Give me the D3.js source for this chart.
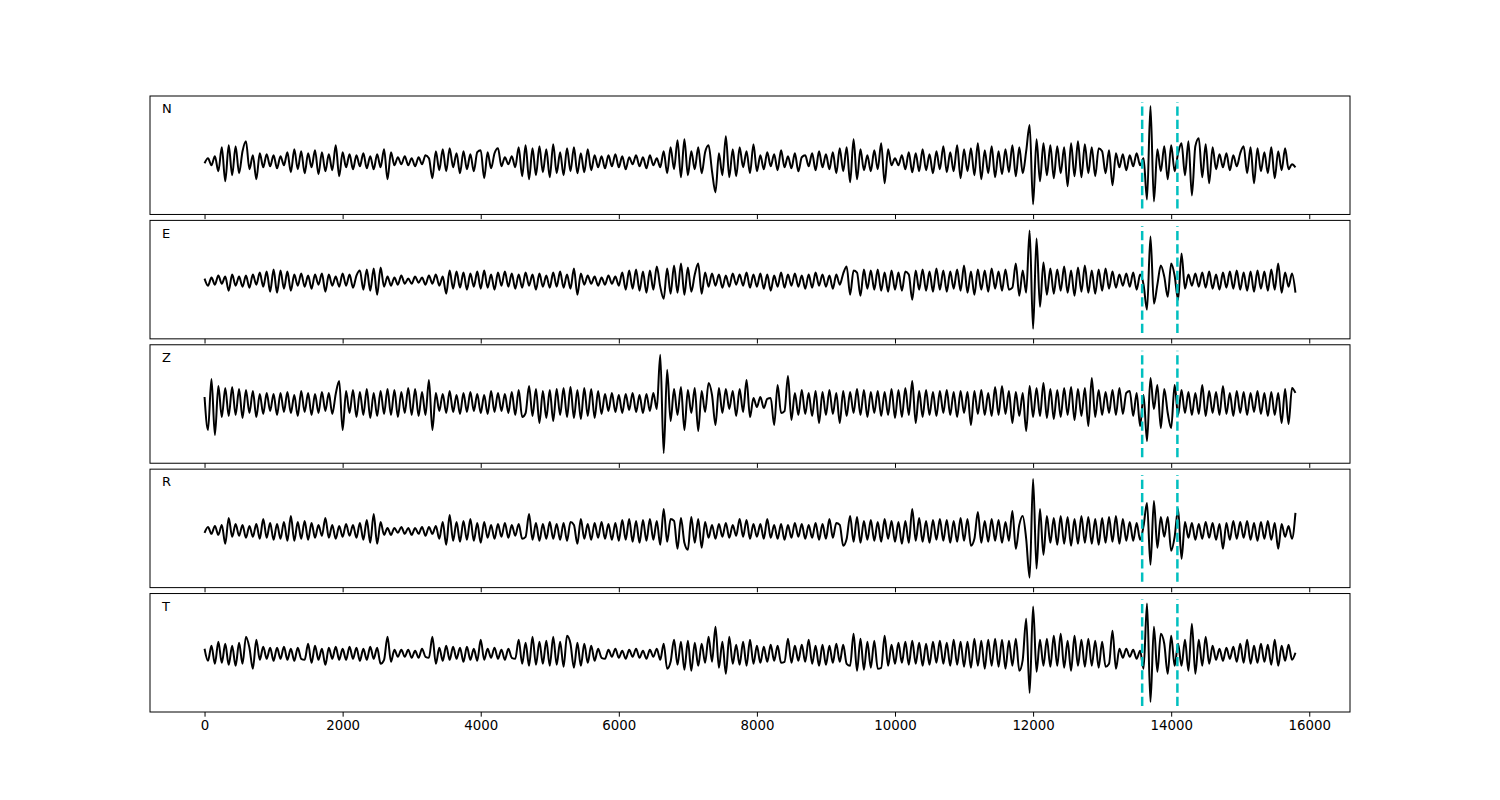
<!DOCTYPE html>
<html><head><meta charset="utf-8">
<script src="https://cdn.jsdelivr.net/npm/d3@7"></script>
<style>body{margin:0;background:#fff} text{font-family:"DejaVu Sans",sans-serif}</style>
</head><body><svg id="c" width="1500" height="800"></svg>
<script>
// sample interval of the traces (x units)
const sampleStep = 50;
const channels = ["N", "E", "Z", "R", "T"];
const picks = [13580, 14090];
const xTicks = [0, 2000, 4000, 6000, 8000, 10000, 12000, 14000, 16000];
const xDomain = [-790, 16590];
const yPad = 10;

const traceN = [
 -2,3,-4,5,-10,14,-20,16,-14,15,-12,10,20,-8,6,-18,8,-6,7,-5,
 6,-7,5,-4,9,-11,12,-8,10,-12,8,-6,11,-13,9,-10,7,-9,16,-15,
 9,-6,7,-8,6,-5,8,-7,5,-8,7,-6,12,-18,9,-4,4,-3,5,-4,
 3,-5,4,-3,6,3,-17,10,-9,12,-10,13,-6,8,-12,10,-8,7,-10,9,
 11,-17,9,-7,8,13,-5,4,-3,5,-6,14,-15,16,-18,13,-14,15,-11,12,
 -16,17,-12,9,-14,13,-10,14,-12,8,-11,12,-9,6,-6,5,-7,6,-5,7,
 -6,5,-8,4,-3,6,-5,4,-7,6,-4,3,-6,10,-12,14,-8,21,-16,22,
 -14,10,-8,14,-12,9,16,-10,-31,8,-14,25,-16,12,-15,14,-6,10,-12,17,
 -10,6,-8,9,-5,7,-9,11,-6,5,-7,8,-10,4,6,-5,8,-9,10,-6,
 7,-8,9,-12,13,-10,14,-21,22,-18,12,-9,6,-10,11,-8,18,-22,12,-4,
 3,-4,6,-8,9,-11,8,-10,12,-9,7,-12,10,-8,15,-11,9,-10,16,-17,
 12,-10,13,-14,18,-18,11,-12,15,-16,10,-13,12,-11,16,-15,14,-12,10,36,
 -43,22,-20,18,-14,16,-17,15,-12,14,-25,18,-15,20,-16,17,-12,14,-15,13,
 10,-12,11,-24,8,-6,7,-9,6,-5,8,-4,3,-38,55,-40,12,-10,15,-18,
 16,-10,8,18,-14,20,-34,15,23,-16,17,-22,14,-8,7,-6,8,-9,6,-5,
 8,15,-12,14,-22,13,-10,9,-12,14,-17,10,-9,13,-8,-3,-6
];
const traceE = [
 2,-5,3,-4,5,-3,4,-10,6,-5,4,-6,5,-7,6,-4,8,-6,9,-11,
 11,-12,10,-8,9,-10,6,-5,7,-6,5,-8,6,-4,7,-11,6,-5,4,-6,
 7,-5,6,-7,5,10,-9,11,-10,12,-14,13,-6,4,-5,3,-4,5,-3,2,
 -3,4,-2,3,-4,5,-3,6,-5,4,-13,10,-8,9,-7,8,-9,7,-6,9,
 -8,10,-7,6,-9,8,-5,9,-6,7,-8,6,-7,8,-5,6,-9,7,-6,5,
 -7,8,-6,9,-7,6,-8,12,-14,7,-4,5,-3,4,-5,3,-4,5,-3,4,
 -5,8,-9,10,-8,11,-10,9,-12,10,-9,14,-6,-18,12,-13,15,-12,17,-14,
 13,-11,6,17,-13,8,-6,7,-5,6,-7,5,-6,7,-4,6,-5,8,-7,6,
 -6,7,-8,6,-10,5,-6,8,-7,6,-5,7,-6,5,-8,6,-7,8,-5,6,
 -6,5,-8,6,-4,7,14,-14,10,8,-15,11,-8,10,-9,11,-10,8,-11,10,
 -9,8,-10,9,6,-19,10,-9,11,-10,9,-11,12,-9,10,-11,9,-8,11,-10,
 15,-12,9,-14,11,-9,10,-11,12,-8,9,-10,11,-9,-7,17,-15,10,-12,50,
 -48,42,-26,18,-14,12,-13,11,-10,14,-12,10,-15,13,-11,15,-12,10,-13,11,
 -10,12,-8,9,-7,6,-5,7,-6,8,-9,6,-4,-29,44,-23,-4,15,4,-16,
 17,5,-19,27,-8,6,-5,7,-6,8,-7,9,-8,6,-9,8,-7,9,-8,10,
 -9,8,-10,9,-11,10,-8,9,-10,11,-9,17,-12,8,-6,7,-12
];
const traceZ = [
 6,-27,24,-32,17,-14,15,-13,16,-12,14,-15,13,-10,12,-14,9,-11,10,-8,
 9,-12,10,-9,11,-10,8,-13,12,-9,10,-12,9,-10,11,-8,10,-11,9,22,
 -27,12,-10,13,-14,11,-12,14,-15,10,-13,12,-11,14,-12,13,-14,11,-10,15,
 -12,14,-13,11,-12,23,-27,10,-8,9,-10,12,-9,8,-11,10,-9,11,-8,9,
 -10,8,-11,12,-9,10,-8,9,-10,11,-12,13,-14,-10,17,-13,14,-20,12,-15,
 13,-18,14,-12,15,-14,16,-15,13,-16,15,-13,14,-15,12,-11,9,-8,10,-9,
 8,-10,9,-7,10,-9,8,-10,9,-8,10,-6,48,-50,33,-18,14,-12,16,-27,
 13,-10,15,-28,12,-9,20,8,-22,15,-10,14,-6,12,-13,14,-9,23,-14,5,
 -4,6,-5,4,5,-22,18,-10,-8,27,-17,10,-12,13,-11,10,-13,12,-20,11,
 -12,13,-11,10,-20,12,-13,11,-10,14,-12,13,-14,11,-10,12,-13,11,-12,14,
 -15,13,-14,15,-12,22,-20,12,-14,13,-12,11,-13,12,-10,13,-12,11,-14,12,
 -10,11,-22,12,-11,13,-12,10,-13,16,-12,17,-11,12,-20,11,-13,10,-28,17,
 -14,15,-13,20,-15,14,-16,13,-14,15,-12,16,-17,14,-13,15,-23,25,-14,13,
 -12,11,-10,13,-12,15,-11,10,12,-13,10,-23,8,-38,25,-6,18,-25,14,-10,
 -25,18,-12,13,-10,11,-12,10,-11,18,-13,12,-10,11,-12,17,-11,10,-13,12,
 -10,11,-12,10,-9,12,-11,10,-13,11,-12,10,-20,14,-21,15,10
];
const traceR = [
 -2,4,-3,5,-4,6,-13,13,-6,7,-5,6,-7,5,-6,7,-8,12,-7,8,
 -9,7,-8,9,-10,15,-10,9,-8,10,-9,8,-7,6,-5,13,-7,6,-8,5,
 -6,7,-5,6,-7,8,-9,11,-12,17,-13,9,-4,3,-4,3,-2,4,-3,3,
 -4,3,-3,4,-5,4,-3,5,-8,9,-14,16,-10,9,-11,10,-9,12,-10,8,
 -12,9,-7,6,-8,7,-6,8,-7,6,-5,7,-8,-6,17,-9,8,-10,7,-8,
 9,-8,7,-9,8,-10,9,6,-13,12,-8,7,-9,8,-7,9,-8,7,-9,8,
 -10,11,-9,12,-11,10,-12,11,-10,12,-9,10,-14,22,-11,12,10,-18,13,-12,
 -19,14,-12,12,-17,9,-7,6,-8,7,-6,8,-7,6,-5,12,-6,11,-8,7,
 -6,7,-8,12,-7,6,-8,7,-9,6,-7,8,-6,7,-8,6,-7,8,-9,7,
 -8,12,-7,8,6,-15,-8,15,-11,14,-12,10,-9,11,-10,9,-11,12,-8,10,
 -11,9,-13,10,-12,22,-10,13,-11,10,-12,11,-9,12,-10,11,-12,10,-11,13,
 -10,12,-15,-8,19,-12,10,-11,12,-10,11,-12,9,-10,20,-18,6,15,-8,-47,
 52,-38,22,-24,15,-12,13,-14,15,-13,14,-15,12,-13,15,-12,14,-13,12,-14,
 13,-12,14,-11,15,-13,12,-10,9,-10,8,-9,5,28,-34,30,-17,14,-6,14,
 -20,-6,22,-28,9,-7,8,-9,7,-8,9,-7,8,-9,7,-18,8,-9,10,-8,
 9,-7,10,-9,8,-10,9,-8,10,-9,8,-18,7,-6,5,-8,18
];
const traceT = [
 5,-7,8,-10,12,-9,10,-11,8,-12,11,-10,17,6,-15,14,-6,7,-5,6,
 -7,6,-5,7,-6,5,-7,6,-5,-6,10,-9,8,-6,5,-11,6,-5,7,-6,
 5,-6,7,-5,6,-7,5,-6,7,-5,6,-10,-6,17,-8,4,-3,4,-3,4,
 -4,3,-4,5,-3,-4,17,-10,6,-7,8,-6,7,-5,6,-8,7,-6,5,-7,
 14,-6,5,-4,6,-5,4,-6,5,-4,-5,14,-10,11,-12,17,-11,12,-10,13,
 -12,17,-11,12,-13,18,10,-14,11,-12,10,-9,8,-7,5,-4,-5,4,-3,5,
 -4,3,-5,4,-3,5,-4,3,-5,4,-3,5,-6,10,-15,-8,14,-11,12,-16,
 13,-17,11,-12,10,-9,17,-8,27,-14,12,-20,17,-10,9,-11,12,-12,14,-10,
 8,-9,7,-8,9,-7,8,-9,-8,15,-9,8,-7,9,-8,14,-10,8,-12,9,
 -11,8,-9,10,-8,9,-10,-12,20,-17,15,-16,12,-14,13,-15,-14,18,-12,9,
 -10,11,-9,12,-11,13,-10,11,-12,10,-11,12,-9,13,-10,11,-12,14,-11,12,
 -13,12,-14,15,-12,13,-15,14,-12,15,-13,14,-15,13,-12,15,-17,-6,35,-39,
 47,-18,14,-12,15,-13,18,-12,20,-14,13,-17,18,-12,14,-13,15,-12,13,-14,
 12,-13,-10,23,-15,5,-4,5,-3,4,-5,3,-15,50,-48,27,-18,20,10,-20,
 18,-12,10,-12,14,-17,30,-20,14,-12,17,-10,8,-6,5,-7,6,-5,7,-8,
 10,-9,14,-10,8,-9,10,-8,9,-11,14,-12,8,-7,9,-6,1
];
const traces = [traceN, traceE, traceZ, traceR, traceT];

// ---- layout ----
const padL = 150, padR = 1350, padT = 96, padB = 712, hspace = 0.05;
const nPanels = traces.length;
const ph = (padB - padT) / (nPanels + (nPanels - 1) * hspace);
const gap = ph * hspace;

const svg = d3.select("#c");
const x = d3.scaleLinear().domain(xDomain).range([padL, padR]);

traces.forEach((vals, i) => {
  const y0 = padT + i * (ph + gap);
  const ext = d3.extent(vals);
  const y = d3.scaleLinear().domain([ext[0] - yPad, ext[1] + yPad]).range([y0 + ph, y0]);
  const g = svg.append("g");
  const pts = vals.map((v, k) => [k * sampleStep, v]);
  g.append("path")
    .attr("d", d3.line().curve(d3.curveMonotoneX).x(d => x(d[0])).y(d => y(d[1]))(pts))
    .attr("fill", "none").attr("stroke", "#000").attr("stroke-width", 2)
    .attr("stroke-linejoin", "round");
  picks.forEach(p => {
    g.append("line")
      .attr("x1", x(p)).attr("x2", x(p))
      .attr("y1", y0 + ph * 0.95).attr("y2", y0 + ph * 0.05)
      .attr("stroke", "#00bfbf").attr("stroke-width", 2.5)
      .attr("stroke-dasharray", "9.25,4");
  });
  g.append("rect").attr("x", padL).attr("y", y0).attr("width", padR - padL).attr("height", ph)
    .attr("fill", "none").attr("stroke", "#000").attr("stroke-width", 1);
  const ax = d3.axisBottom(x).tickValues(xTicks).tickSize(4.67).tickPadding(4.2).tickSizeOuter(0)
    .tickFormat(i === nPanels - 1 ? d3.format("d") : () => "");
  const ag = g.append("g").attr("transform", `translate(0,${y0 + ph})`).call(ax);
  ag.select(".domain").remove();
  ag.selectAll("line").attr("stroke", "#000").attr("stroke-width", 1);
  ag.selectAll("text").attr("fill", "#000").style("font-size", "13.33px")
    .style("font-family", '"DejaVu Sans", sans-serif');
  g.append("text").attr("x", padL + 12).attr("y", y0 + 17.3)
    .style("font-size", "13px").attr("fill", "#000").text(channels[i]);
});
</script></body></html>
